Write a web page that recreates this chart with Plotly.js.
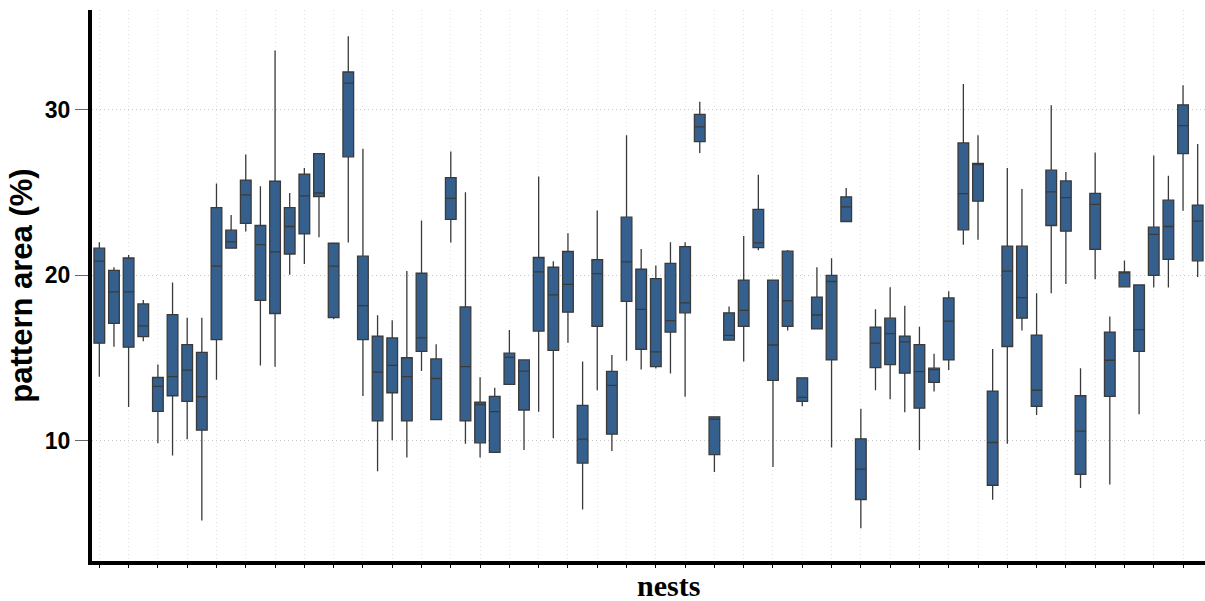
<!DOCTYPE html>
<html>
<head>
<meta charset="utf-8">
<script src="https://cdn.plot.ly/plotly-3.0.1.min.js"></script>
<style>html,body{margin:0;padding:0;background:#fff;}#chart{width:1205px;height:601px;}</style>
</head>
<body>
<div id="chart"></div>
<script>
const nests = ["N01","N02","N03","N04","N05","N06","N07","N08","N09","N10",
"N11","N12","N13","N14","N15","N16","N17","N18","N19","N20",
"N21","N22","N23","N24","N25","N26","N27","N28","N29","N30",
"N31","N32","N33","N34","N35","N36","N37","N38","N39","N40",
"N41","N42","N43","N44","N45","N46","N47","N48","N49","N50",
"N51","N52","N53","N54","N55","N56","N57","N58","N59","N60",
"N61","N62","N63","N64","N65","N66","N67","N68","N69","N70",
"N71","N72","N73","N74","N75","N76"];

const lowerWhisker = [13.88,15.68,12.05,16.01,9.87,9.12,10.11,5.2,13.7,21.6,
22.64,14.56,14.48,20.03,20.68,22.29,17.34,21.97,12.71,8.17,
10.04,9.01,14.22,11.29,21.97,9.83,9.01,9.31,13.42,9.46,
11.77,10.17,15.92,5.87,13.06,9.4,14.84,14.31,14.37,14.07,
12.67,27.37,8.13,16.09,14.8,21.5,8.43,16.67,12.09,16.76,
9.61,23.24,4.73,13.06,12.52,11.74,9.46,12.99,14.28,21.84,
22.14,6.45,9.83,16.67,11.57,18.91,19.47,7.16,19.75,7.37,
19.3,11.61,19.26,19.26,23.89,19.9];

const q1 = [15.9,17.1,15.66,16.29,11.79,12.73,12.39,10.65,16.11,21.63,
23.13,18.48,17.69,21.28,22.49,24.75,17.45,27.14,16.11,11.21,
12.91,11.21,15.4,11.29,23.37,11.21,9.89,9.31,13.42,11.87,
16.63,15.47,17.77,8.67,16.91,10.41,18.42,15.53,14.48,16.57,
17.73,28.06,9.18,16.09,16.91,21.67,13.66,16.91,12.39,16.76,
14.89,23.24,6.47,14.43,14.61,14.09,11.98,13.53,14.89,22.74,
24.47,7.33,15.7,17.41,12.09,23.0,22.66,7.98,21.56,12.69,
19.3,15.4,19.99,20.96,27.33,20.87];

const medians = [20.85,19.0,19.0,16.95,13.29,13.88,14.28,12.67,20.55,22.01,
24.85,21.84,21.41,22.94,24.79,24.96,20.55,31.59,18.16,14.15,
14.56,13.88,16.22,13.77,24.64,14.48,12.2,11.77,15.04,14.22,
20.2,18.81,19.45,10.11,20.1,13.36,20.81,17.94,15.38,17.26,
18.33,28.95,11.31,16.37,17.88,21.95,15.79,18.46,12.63,17.6,
19.62,24.12,8.3,15.9,16.48,15.98,14.18,14.31,17.23,24.92,
26.68,9.91,20.25,18.65,13.06,25.03,24.68,10.6,24.27,14.87,
20.16,16.72,22.47,22.94,29.03,23.26];

const q3 = [21.63,20.29,21.04,18.27,13.83,17.62,15.81,15.34,24.08,22.72,
25.74,23.0,25.67,24.08,26.1,27.33,21.93,32.26,21.15,16.33,
16.22,15.02,20.12,14.95,25.89,18.09,12.35,12.69,15.3,14.89,
21.07,20.48,21.43,12.15,20.94,14.2,23.5,20.36,19.8,20.72,
21.73,29.7,11.46,17.73,19.71,23.97,19.71,21.45,13.81,18.68,
19.99,24.73,10.13,16.87,17.41,16.33,15.81,14.39,18.63,27.98,
26.75,13.01,21.75,21.75,16.39,26.34,25.69,12.73,24.94,16.57,
20.2,19.41,22.9,24.53,30.28,24.23];

const upperWhisker = [21.99,20.48,21.22,18.5,14.61,19.56,17.43,17.43,25.54,23.63,
27.29,25.37,33.55,24.96,26.47,27.33,21.93,34.41,27.63,17.58,
17.28,20.25,23.3,15.83,27.46,25.01,13.85,13.21,16.7,14.89,
25.95,20.85,22.53,14.8,23.91,15.19,28.45,21.58,20.59,21.99,
21.99,30.47,11.46,18.12,22.36,26.06,19.71,21.52,13.81,20.48,
21.02,25.26,11.94,17.94,19.28,18.16,16.89,15.27,19.04,31.53,
28.45,15.55,26.47,25.2,18.91,30.26,26.23,14.39,27.4,17.51,
20.89,19.41,27.22,26.0,31.46,27.91];

const yTickVals = [10, 20, 30];
const yTickText = ["10", "20", "30"];

const trace = {
  type: 'box',
  x: nests,
  q1: q1,
  median: medians,
  q3: q3,
  lowerfence: lowerWhisker,
  upperfence: upperWhisker,
  boxpoints: false,
  width: 0.73,
  whiskerwidth: 0,
  fillcolor: '#35608e',
  line: {color: '#3a3a3a', width: 1.3},
  hoverinfo: 'skip',
  showlegend: false
};

const layout = {
  width: 1205,
  height: 601,
  margin: {l: 92, r: 0, t: 10, b: 40},
  paper_bgcolor: '#ffffff',
  plot_bgcolor: '#ffffff',
  showlegend: false,
  xaxis: {
    type: 'category',
    range: [-0.5, 75.5],
    showticklabels: false,
    showgrid: true,
    gridcolor: '#e3e3e3',
    griddash: '1px,3px',
    gridwidth: 1,
    showline: true,
    linecolor: '#000000',
    linewidth: 4,
    ticks: 'outside',
    ticklen: 3,
    tickwidth: 1,
    tickcolor: '#000000',
    zeroline: false,
    fixedrange: true
  },
  yaxis: {
    range: [2.76, 36.0],
    tickmode: 'array',
    tickvals: yTickVals,
    ticktext: yTickText,
    showgrid: true,
    gridcolor: '#c8c8c8',
    griddash: '1px,3px',
    gridwidth: 1,
    showline: true,
    linecolor: '#000000',
    linewidth: 4,
    ticks: 'outside',
    ticklen: 13,
    tickwidth: 1,
    tickcolor: '#666666',
    tickfont: {family: 'Liberation Sans, Arial, sans-serif', size: 23, color: '#000000', weight: 'bold'},
    zeroline: false,
    title: {
      text: 'pattern area (%)',
      font: {family: 'Liberation Sans, Arial, sans-serif', size: 31, color: '#000000', weight: 'bold'},
      standoff: 4
    },
    fixedrange: true
  },
  annotations: [{
    text: 'nests',
    xref: 'paper', yref: 'paper',
    x: 0.518, y: -0.045,
    xanchor: 'center', yanchor: 'middle',
    showarrow: false,
    font: {family: 'Liberation Serif, Times New Roman, serif', size: 30, color: '#000000', weight: 'bold'}
  }]
};

Plotly.newPlot('chart', [trace], layout, {displayModeBar: false, staticPlot: true});
</script>
</body>
</html>
